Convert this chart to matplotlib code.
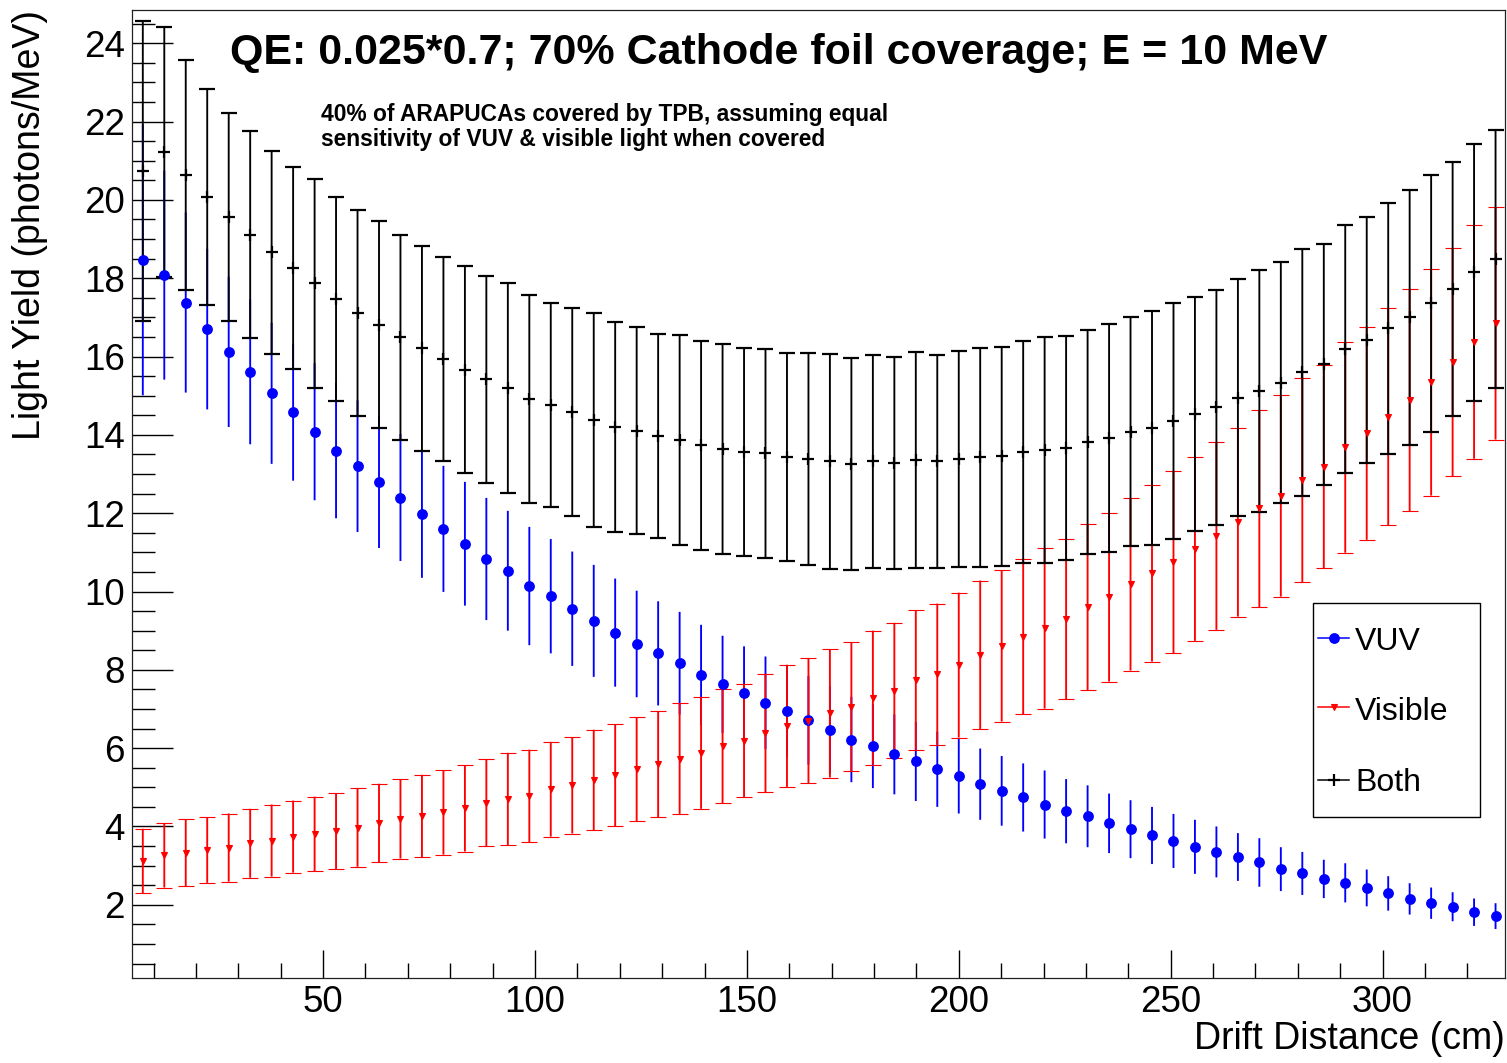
import matplotlib
matplotlib.use("Agg")
import matplotlib.pyplot as plt
from matplotlib.lines import Line2D
from matplotlib.patches import Rectangle
from matplotlib.ticker import MultipleLocator

plt.rcParams['font.family'] = ['Liberation Sans', 'DejaVu Sans']

# ---------------- data ----------------
drift_cm = [7.45, 12.52, 17.58, 22.65, 27.72, 32.79, 37.85, 42.92, 47.99, 53.05,
            58.12, 63.19, 68.25, 73.32, 78.39, 83.46, 88.52, 93.59, 98.66, 103.72,
            108.79, 113.86, 118.92, 123.99, 129.06, 134.13, 139.19, 144.26, 149.33, 154.39,
            159.46, 164.53, 169.59, 174.66, 179.73, 184.80, 189.86, 194.93, 200.00, 205.06,
            210.13, 215.20, 220.26, 225.33, 230.40, 235.47, 240.53, 245.60, 250.67, 255.73,
            260.80, 265.87, 270.93, 276.00, 281.07, 286.14, 291.20, 296.27, 301.34, 306.40,
            311.47, 316.54, 321.60, 326.67]

vuv = [18.47, 18.08, 17.38, 16.70, 16.12, 15.61, 15.06, 14.58, 14.08, 13.60,
       13.20, 12.79, 12.40, 11.98, 11.60, 11.22, 10.83, 10.53, 10.14, 9.88,
       9.56, 9.25, 8.95, 8.66, 8.42, 8.17, 7.87, 7.63, 7.40, 7.16,
       6.94, 6.71, 6.46, 6.22, 6.05, 5.84, 5.66, 5.46, 5.29, 5.08,
       4.91, 4.74, 4.56, 4.39, 4.26, 4.08, 3.93, 3.77, 3.63, 3.48,
       3.35, 3.22, 3.08, 2.91, 2.80, 2.66, 2.56, 2.43, 2.29, 2.15,
       2.04, 1.95, 1.81, 1.71]
vuv_err = [3.46, 2.67, 2.30, 2.05, 1.92, 1.85, 1.80, 1.75, 1.75, 1.73,
           1.68, 1.68, 1.62, 1.63, 1.61, 1.58, 1.56, 1.53, 1.51, 1.46,
           1.46, 1.43, 1.38, 1.36, 1.33, 1.31, 1.28, 1.24, 1.20, 1.18,
           1.16, 1.13, 1.12, 1.09, 1.07, 1.02, 1.01, 0.96, 0.96, 0.91,
           0.89, 0.87, 0.87, 0.82, 0.79, 0.76, 0.74, 0.73, 0.69, 0.69,
           0.65, 0.61, 0.62, 0.56, 0.55, 0.49, 0.50, 0.47, 0.44, 0.40,
           0.40, 0.37, 0.35, 0.33]

visible = [3.12, 3.26, 3.33, 3.40, 3.46, 3.57, 3.64, 3.74, 3.81, 3.88,
           3.97, 4.09, 4.19, 4.27, 4.36, 4.46, 4.61, 4.70, 4.78, 4.95,
           5.05, 5.19, 5.31, 5.46, 5.59, 5.73, 5.88, 6.05, 6.19, 6.39,
           6.57, 6.70, 6.89, 7.06, 7.29, 7.47, 7.74, 7.89, 8.12, 8.38,
           8.61, 8.85, 9.06, 9.30, 9.60, 9.85, 10.18, 10.46, 10.75, 11.09,
           11.42, 11.77, 12.12, 12.44, 12.85, 13.19, 13.68, 14.04, 14.46, 14.89,
           15.34, 15.85, 16.37, 16.85]
visible_err = [0.82, 0.82, 0.85, 0.84, 0.87, 0.88, 0.92, 0.92, 0.95, 0.97,
               1.00, 1.00, 1.01, 1.05, 1.08, 1.10, 1.11, 1.18, 1.18, 1.21,
               1.23, 1.28, 1.30, 1.33, 1.36, 1.41, 1.43, 1.46, 1.45, 1.51,
               1.56, 1.60, 1.64, 1.65, 1.71, 1.73, 1.78, 1.80, 1.85, 1.90,
               1.93, 1.99, 2.05, 2.05, 2.12, 2.15, 2.20, 2.25, 2.33, 2.35,
               2.40, 2.41, 2.52, 2.57, 2.61, 2.60, 2.69, 2.72, 2.77, 2.84,
               2.89, 2.91, 2.98, 2.97]

both = [20.74, 21.22, 20.64, 20.08, 19.57, 19.11, 18.66, 18.26, 17.87, 17.47,
        17.11, 16.81, 16.49, 16.21, 15.94, 15.66, 15.42, 15.19, 14.92, 14.76,
        14.59, 14.38, 14.21, 14.11, 13.97, 13.87, 13.73, 13.63, 13.56, 13.53,
        13.44, 13.38, 13.32, 13.25, 13.32, 13.29, 13.36, 13.32, 13.38, 13.43,
        13.45, 13.57, 13.61, 13.67, 13.83, 13.91, 14.08, 14.17, 14.36, 14.53,
        14.70, 14.95, 15.12, 15.33, 15.60, 15.80, 16.19, 16.42, 16.72, 17.00,
        17.36, 17.73, 18.15, 18.49]
both_err = [3.82, 3.19, 2.94, 2.76, 2.65, 2.64, 2.60, 2.59, 2.67, 2.61,
            2.62, 2.64, 2.62, 2.61, 2.60, 2.64, 2.64, 2.68, 2.65, 2.60,
            2.66, 2.72, 2.68, 2.64, 2.61, 2.69, 2.67, 2.68, 2.66, 2.67,
            2.66, 2.70, 2.75, 2.71, 2.71, 2.71, 2.76, 2.73, 2.76, 2.80,
            2.80, 2.83, 2.88, 2.86, 2.86, 2.91, 2.93, 2.99, 3.01, 2.98,
            3.01, 3.03, 3.08, 3.08, 3.15, 3.08, 3.16, 3.15, 3.20, 3.26,
            3.28, 3.24, 3.29, 3.29]

series_labels = ["VUV", "Visible", "Both"]
title = "QE: 0.025*0.7; 70% Cathode foil coverage; E = 10 MeV"
note_lines = ["40% of ARAPUCAs covered by TPB, assuming equal",
              "sensitivity of VUV & visible light when covered"]
x_label = "Drift Distance (cm)"
y_label = "Light Yield (photons/MeV)"

# ---------------- figure ----------------
W, H = 1507, 1063
fig = plt.figure(figsize=(W / 100, H / 100), dpi=100)
L, R, T, B = 132, 1505, 10, 978
ax = fig.add_axes([L / W, 1 - B / H, (R - L) / W, (B - T) / H])

styles = [
    dict(color='#0000ff', marker='o', ms=7.8, mew=0),
    dict(color='#ff0000', marker='v', ms=4.5, mew=0.8),
    dict(color='#000000', marker='+', ms=8, mew=1.6),
]
data = [(vuv, vuv_err), (visible, visible_err), (both, both_err)]

for (vals, errs), st in zip(data, styles):
    eb = ax.errorbar(drift_cm, vals, yerr=errs, fmt=st['marker'], color=st['color'],
                     ms=st['ms'], mew=st['mew'], elinewidth=1.35, capsize=5.8,
                     capthick=1.35, linestyle='none', zorder=3)
    for lc in eb[2]:
        lc.set_snap(False)
    for cl in eb[1]:
        cl.set_snap(False)

ax.set_xlim(4.9, 328.9)
ax.set_ylim(0.13, 24.85)
ax.xaxis.set_major_locator(MultipleLocator(50))
ax.xaxis.set_minor_locator(MultipleLocator(10))
ax.yaxis.set_major_locator(MultipleLocator(2))
ax.yaxis.set_minor_locator(MultipleLocator(0.5))

ax.tick_params(axis='both', which='both', direction='in', top=False, right=False,
               width=1.0, colors='black')
ax.tick_params(axis='y', which='major', length=29.5, labelsize=26.5, pad=5)
ax.tick_params(axis='y', which='minor', length=16.5)
ax.tick_params(axis='x', which='major', length=20, labelsize=26.5, pad=5)
ax.tick_params(axis='x', which='minor', length=10.8)
for sp in ax.spines.values():
    sp.set_linewidth(0.9)
    sp.set_color('#222222')

ax.set_xlabel(x_label, fontsize=27, loc='right')
ax.xaxis.set_label_coords(1.0, -0.0444)
ax.set_ylabel(y_label, fontsize=27, loc='top')
ax.yaxis.set_label_coords(-0.0612, 1.0)

fig.text(230 / W, 1 - 64 / H, title, fontsize=31, fontweight='bold',
         ha='left', va='baseline')
fig.text(321 / W, 1 - 121 / H, note_lines[0], fontsize=16.4, fontweight='bold',
         ha='left', va='baseline')
fig.text(321 / W, 1 - 146 / H, note_lines[1], fontsize=16.4, fontweight='bold',
         ha='left', va='baseline')

# ---------------- legend (ROOT style) ----------------
lx0, lx1, ly0, ly1 = 1313, 1480, 603, 817
fig.add_artist(Rectangle((lx0 / W, 1 - ly1 / H), (lx1 - lx0) / W, (ly1 - ly0) / H,
                         transform=fig.transFigure, facecolor='white',
                         edgecolor='black', linewidth=1.0, zorder=5))
row_line_y = [638, 707, 780]
row_text_y = [650, 720, 791]
for lab, st, yl, yt in zip(series_labels, styles, row_line_y, row_text_y):
    fig.add_artist(Line2D([1318 / W, 1349 / W], [1 - yl / H, 1 - yl / H],
                          transform=fig.transFigure, color=st['color'], lw=1.1, zorder=6))
    fig.add_artist(Line2D([1333.5 / W], [1 - yl / H], transform=fig.transFigure,
                          color=st['color'], marker=st['marker'], ms=st['ms'],
                          mew=st['mew'], linestyle='none', zorder=7))
    fig.text(1355 / W, 1 - yt / H, lab, fontsize=23, ha='left', va='baseline', zorder=7)

fig.savefig("out.png", dpi=100)
